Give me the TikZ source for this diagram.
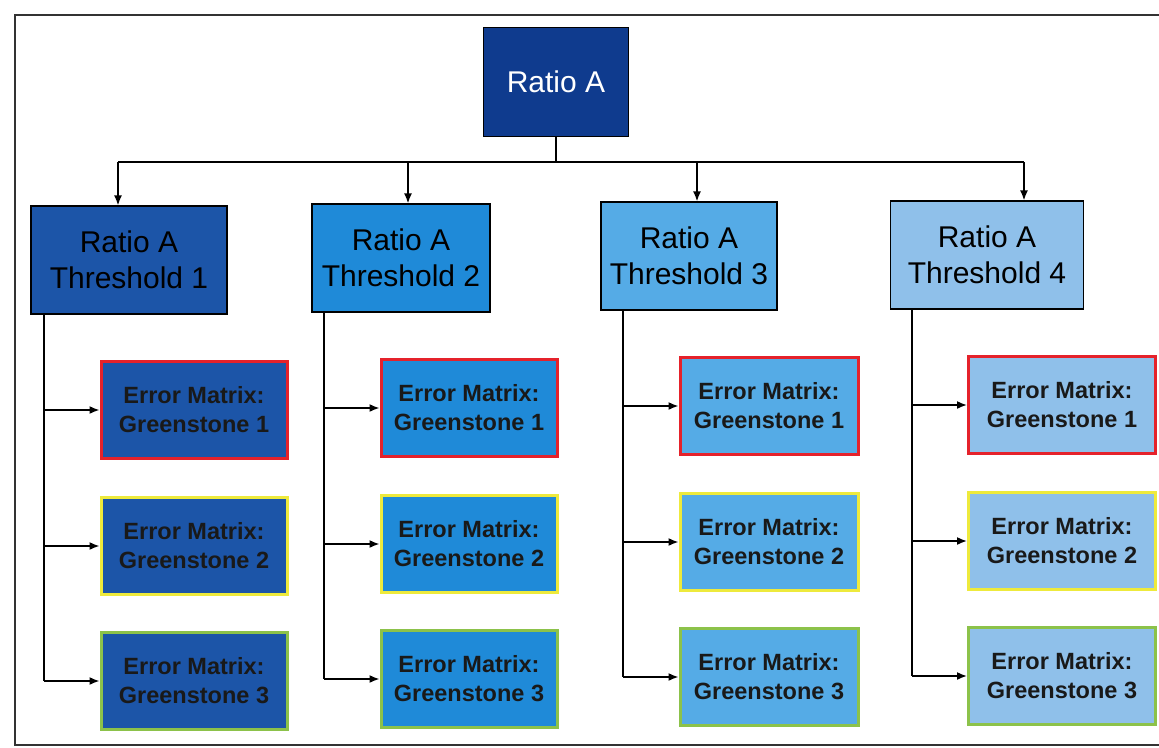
\documentclass[tikz,border=0pt]{standalone}
\usepackage{fontspec}
\setmainfont{Liberation Sans}
\usetikzlibrary{arrows.meta, positioning, calc}
\definecolor{rootnavy}{HTML}{0F3B8E}
\definecolor{tone1}{HTML}{1C55A8}
\definecolor{tone2}{HTML}{1F8AD8}
\definecolor{tone3}{HTML}{55ABE6}
\definecolor{tone4}{HTML}{8FC0EA}
\definecolor{edgered}{HTML}{E5222B}
\definecolor{edgeyellow}{HTML}{EEEA3C}
\definecolor{edgegreen}{HTML}{8CC24A}

\begin{document}
\begin{tikzpicture}[x=1pt, y=-1pt,
  th/.style={rectangle, draw=black, line width=1.2pt, minimum height=108pt, inner sep=0pt,
             align=center, font=\fontsize{30}{36}\selectfont, text=black},
  em/.style={rectangle, line width=3pt, minimum height=97pt, inner sep=0pt,
             align=center, font=\fontsize{23.5}{29}\selectfont\bfseries, text=black!90},
  ln/.style={line width=1.6pt, black},
  a/.style={-{Latex[length=10pt, width=8pt]}, line width=1.6pt, black}]
\useasboundingbox (0,0) rectangle (1159,747);
\fill[white] (0,0) rectangle (1159,747);
\draw[line width=1.5pt, black!80] (1159,15) -- (15,15) -- (15,745) -- (1159,745);

% top of the tree
\node[rectangle, draw=black, line width=1.2pt, fill=rootnavy, minimum width=145pt, minimum height=109pt,
      text=white, font=\fontsize{30}{34}\selectfont] (root) at (556,82) {Ratio A};

% the four thresholds
\node[th, fill=tone1, minimum width=196pt] (t1) at (129,260) {Ratio A\\Threshold 1};
\node[th, fill=tone2, minimum width=178pt] (t2) at (401,258) {Ratio A\\Threshold 2};
\node[th, fill=tone3, minimum width=176pt] (t3) at (689,256) {Ratio A\\Threshold 3};
\node[th, fill=tone4, minimum width=193pt] (t4) at (987,255) {Ratio A\\Threshold 4};

\coordinate (bus) at (555,162);
\draw[ln] (root.south) -- (root.south |- bus);
\foreach \c/\d in {1/118, 2/408, 3/697, 4/1024} {
  \coordinate (d\c) at (\d,162);
  \draw[a] (d\c) -- (d\c |- t\c.north);
}
\draw[ln] (d1) -- (d4);

% error matrices under each threshold
\foreach \c/\x/\w/\dy/\k in {1/194/186/0/44, 2/469/176/-2/324, 3/769/178/-4/623, 4/1062/187/-5/912} {
  \node[em, fill=tone\c, draw=edgered, minimum width=\w pt] (e\c1) at (\x,410+\dy) {Error Matrix:\\Greenstone 1};
  \node[em, fill=tone\c, draw=edgeyellow, minimum width=\w pt] (e\c2) at (\x,546+\dy) {Error Matrix:\\Greenstone 2};
  \node[em, fill=tone\c, draw=edgegreen, minimum width=\w pt] (e\c3) at (\x,681+\dy) {Error Matrix:\\Greenstone 3};
  \coordinate (k\c) at (\k,0);
  \draw[ln] (k\c |- t\c.south) -- (k\c |- e\c3.west);
  \foreach \r in {1,2,3}
    \draw[a] (k\c |- e\c\r.west) -- (e\c\r.west);
}
\end{tikzpicture}
\end{document}
